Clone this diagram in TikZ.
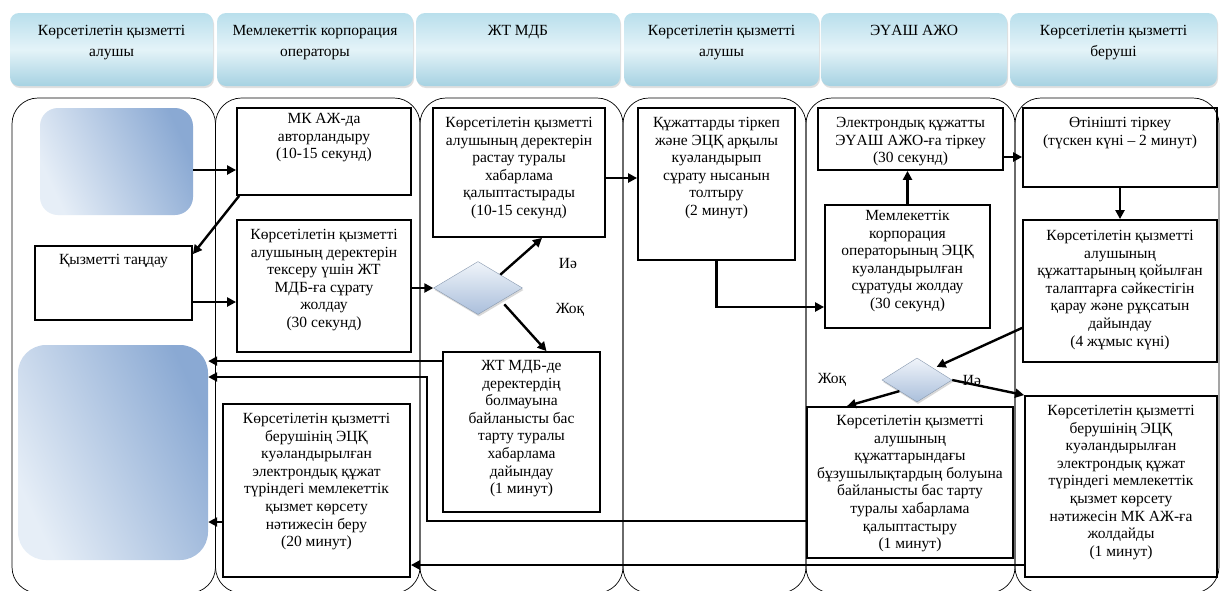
\documentclass[tikz,border=0pt]{standalone}
\usepackage{fontspec}
\setmainfont{Liberation Serif}
\usetikzlibrary{arrows.meta,shapes.geometric,shadows,calc}
\definecolor{hdrA}{HTML}{B9DFEC}
\definecolor{hdrB}{HTML}{E4F3F8}
\definecolor{hdrC}{HTML}{A6D2E2}
\definecolor{bluA}{HTML}{E6EEF7}
\definecolor{bluB}{HTML}{8AA9D3}
\definecolor{diaA}{HTML}{F0F4FA}
\definecolor{diaB}{HTML}{AABFDB}
\begin{document}
\begin{tikzpicture}[x=1pt,y=-1pt,
  lane/.style={draw=black, line width=0.7pt, rounded corners=26pt, inner sep=0pt},
  hdr/.style={rounded corners=9pt, inner sep=0pt, top color=hdrA, bottom color=hdrC, middle color=hdrB,
    drop shadow={opacity=0.25, shadow xshift=1pt, shadow yshift=-2pt}},
  stepbox/.style={draw=black, line width=1.8pt, inner sep=0pt},
  bluebox/.style={inner sep=0pt, shading=axis, left color=bluA, right color=bluB, shading angle=115},
  dec/.style={diamond, inner sep=0pt, top color=diaA, bottom color=diaB, draw=diaB!80!black, line width=0.4pt,
    drop shadow={opacity=0.3, shadow xshift=1pt, shadow yshift=-2pt}},
  txt/.style={align=center, anchor=north, inner sep=0pt, font=\fontsize{15.5pt}{17.6pt}\selectfont},
  htxt/.style={align=center, anchor=north, inner sep=0pt, font=\fontsize{15.5pt}{21.5pt}\selectfont},
  lbl/.style={inner sep=0pt, font=\fontsize{15.5pt}{17pt}\selectfont},
  arr/.style={line width=2.4pt, -{Triangle[length=9pt,width=9pt]}}
]
\useasboundingbox (0,0) rectangle (1221,590);
\fill[white] (0,0) rectangle (1221,590);
\clip (0,0) rectangle (1221,590);

% headers
\node[hdr, minimum width=203pt, minimum height=73pt] (h1) at (111.5,49.5) {};
\node[hdr, minimum width=196pt, minimum height=73pt] (h2) at (315,49.5) {};
\node[hdr, minimum width=204pt, minimum height=73pt] (h3) at (518,49.5) {};
\node[hdr, minimum width=195pt, minimum height=73pt] (h4) at (721.5,49.5) {};
\node[hdr, minimum width=186pt, minimum height=73pt] (h5) at (914,49.5) {};
\node[hdr, minimum width=207pt, minimum height=73pt] (h6) at (1113.5,49.5) {};
\node[htxt] (th1) at ([yshift=-12pt]h1.north) {Көрсетілетін қызметті\\алушы};
\node[htxt] (th2) at ([yshift=-12pt]h2.north) {Мемлекеттік корпорация\\операторы};
\node[htxt] (th3) at ([yshift=-12pt]h3.north) {ЖТ МДБ};
\node[htxt] (th4) at ([yshift=-12pt]h4.north) {Көрсетілетін қызметті\\алушы};
\node[htxt] (th5) at ([yshift=-12pt]h5.north) {ЭҮАШ АЖО};
\node[htxt] (th6) at ([yshift=-12pt]h6.north) {Көрсетілетін қызметті\\беруші};

% lanes
\node[lane, minimum width=203.5pt, minimum height=495pt] (l1) at (113.75,345.5) {};
\node[lane, minimum width=204.5pt, minimum height=495pt] (l2) at (317.75,345.5) {};
\node[lane, minimum width=203pt, minimum height=495pt] (l3) at (521.5,345.5) {};
\node[lane, minimum width=183pt, minimum height=495pt] (l4) at (714.5,345.5) {};
\node[lane, minimum width=209pt, minimum height=495pt] (l5) at (910.5,345.5) {};
\node[lane, minimum width=204pt, minimum height=495pt] (l6) at (1117,345.5) {};

% lane 1
\node[bluebox, rounded corners=18pt, minimum width=153pt, minimum height=107pt] (blue1) at (116.5,161.5) {};
\node[stepbox, minimum width=157pt, minimum height=74pt] (tandau) at (113.5,283) {};
\node[txt] (ttandau) at ([yshift=-9pt]tandau.north) {Қызметті таңдау};
\node[bluebox, rounded corners=28pt, minimum width=190pt, minimum height=215pt] (blue2) at (113,452.5) {};

% lane 2
\node[stepbox, minimum width=174pt, minimum height=87pt] (mk) at (324,151.5) {};
\node[txt] (tmk) at ([yshift=-6pt]mk.north) {МК АЖ-да\\авторландыру\\(10-15 секунд)};
\node[stepbox, minimum width=174pt, minimum height=132pt] (req) at (324,286) {};
\node[txt] (treq) at ([yshift=-10pt]req.north) {Көрсетілетін қызметті\\алушының деректерін\\тексеру үшін ЖТ\\МДБ-ға сұрату\\жолдау\\(30 секунд)};
\node[stepbox, minimum width=187pt, minimum height=173pt] (res) at (316.5,490.5) {};
\node[txt] (tres) at ([yshift=-10pt]res.north) {Көрсетілетін қызметті\\берушінің ЭЦҚ\\куәландырылған\\электрондық құжат\\түріндегі мемлекеттік\\қызмет көрсету\\нәтижесін беру\\(20 минут)};

% lane 3
\node[stepbox, minimum width=172pt, minimum height=129pt] (conf) at (519,172.5) {};
\node[txt] (tconf) at ([yshift=-10pt]conf.north) {Көрсетілетін қызметті\\алушының деректерін\\растау туралы\\хабарлама\\қалыптастырады\\(10-15 секунд)};
\node[dec, minimum width=89pt, minimum height=53pt] (dia1) at (478,288) {};
\node[stepbox, minimum width=157pt, minimum height=160pt] (zht) at (521.5,432) {};
\node[txt] (tzht) at ([yshift=-9pt]zht.north) {ЖТ МДБ-де\\деректердің\\болмауына\\байланысты бас\\тарту туралы\\хабарлама\\дайындау\\(1 минут)};
\node[lbl] (yes1) at (568,263) {Иә};
\node[lbl] (no1) at (570,310) {Жоқ};

% lane 4
\node[stepbox, minimum width=157pt, minimum height=152pt] (form) at (716.5,184) {};
\node[txt] (tform) at ([yshift=-10pt]form.north) {Құжаттарды тіркеп\\және ЭЦҚ арқылы\\куәландырып\\сұрату нысанын\\толтыру\\(2 минут)};

% lane 5
\node[stepbox, minimum width=185pt, minimum height=62pt] (reg) at (910.5,139) {};
\node[txt] (treg) at ([yshift=-10pt]reg.north) {Электрондық құжатты\\ЭҮАШ АЖО-ға тіркеу\\(30 секунд)};
\node[stepbox, minimum width=165pt, minimum height=123pt] (send) at (907.5,266.5) {};
\node[txt] (tsend) at ([yshift=-6pt]send.north) {Мемлекеттік\\корпорация\\операторының ЭЦҚ\\куәландырылған\\сұратуды жолдау\\(30 секунд)};
\node[dec, minimum width=70pt, minimum height=44pt] (dia2) at (917,380) {};
\node[lbl] (no2) at (832,380) {Жоқ};
\node[lbl] (yes2) at (972,380) {Иә};
\node[stepbox, minimum width=206pt, minimum height=151pt] (rej) at (910,482.5) {};
\node[txt] (trej) at ([yshift=-9pt]rej.north) {Көрсетілетін қызметті\\алушының\\құжаттарындағы\\бұзушылықтардың болуына\\байланысты бас тарту\\туралы хабарлама\\қалыптастыру\\(1 минут)};

% lane 6
\node[stepbox, minimum width=194pt, minimum height=79pt] (app) at (1120,147.5) {};
\node[txt] (tapp) at ([yshift=-10pt]app.north) {Өтінішті тіркеу\\(түскен күні – 2 минут)};
\node[stepbox, minimum width=194pt, minimum height=142pt] (chk) at (1120,291) {};
\node[txt] (tchk) at ([yshift=-11pt]chk.north) {Көрсетілетін қызметті\\алушының\\құжаттарының қойылған\\талаптарға сәйкестігін\\қарау және рұқсатын\\дайындау\\(4 жұмыс күні)};
\node[stepbox, minimum width=192pt, minimum height=181pt] (out) at (1121,486.5) {};
\node[txt] (tout) at ([yshift=-10pt]out.north) {Көрсетілетін қызметті\\берушінің ЭЦҚ\\куәландырылған\\электрондық құжат\\түріндегі мемлекеттік\\қызмет көрсету\\нәтижесін МК АЖ-ға\\жолдайды\\(1 минут)};

% connectors
\draw[arr] ([yshift=-8.5pt]blue1.east) -- ([yshift=-8.5pt]blue1.east -| mk.west);
\draw[arr] ([xshift=3pt]mk.south west) -- ([yshift=-9pt]tandau.north east);
\draw[arr] ([yshift=-19pt]tandau.east) -- ([yshift=-19pt]tandau.east -| req.west);
\draw[arr] (req.east |- dia1.west) -- (dia1.west);
\draw[arr] (dia1.north east) -- ([xshift=23pt]conf.south);
\draw[arr] ([xshift=4pt,yshift=-3pt]dia1.south east) -- ([xshift=25pt]zht.north);
\draw[arr] ([yshift=-5.5pt]conf.east) -- ([yshift=-5.5pt]conf.east -| form.west);
\draw[arr] (form.south) |- ([yshift=-40.5pt]send.west);
\draw[arr] (send.north) -- (send.north |- reg.south);
\draw[arr] ([yshift=-18pt]reg.east) -- ([yshift=-18pt]reg.east -| app.west);
\draw[arr] (app.south) -- (app.south |- chk.north);
\draw[arr] ([yshift=35pt]chk.south west) -- ([xshift=2pt,yshift=2pt]dia2.north east);
\draw[arr] (dia2.south west) -- ([xshift=-63pt]rej.north);
\draw[arr] (dia2.east) -- (out.north west);
\draw[arr] ([yshift=-10pt]zht.north west) -- ([yshift=-10pt]zht.north west -| blue2.east);
\coordinate (bendA) at (427,521);
\coordinate (bendB) at (427,377);
\draw[arr] (rej.west |- bendA) -- (bendA) -- (bendB) -- (bendB -| blue2.east);
\draw[arr] ([yshift=-78.5pt]out.west) -- ([yshift=-78.5pt]out.west -| res.east);
\draw[arr] ([yshift=-31.5pt]res.west) -- ([yshift=-31.5pt]res.west -| blue2.east);
\end{tikzpicture}
\end{document}
